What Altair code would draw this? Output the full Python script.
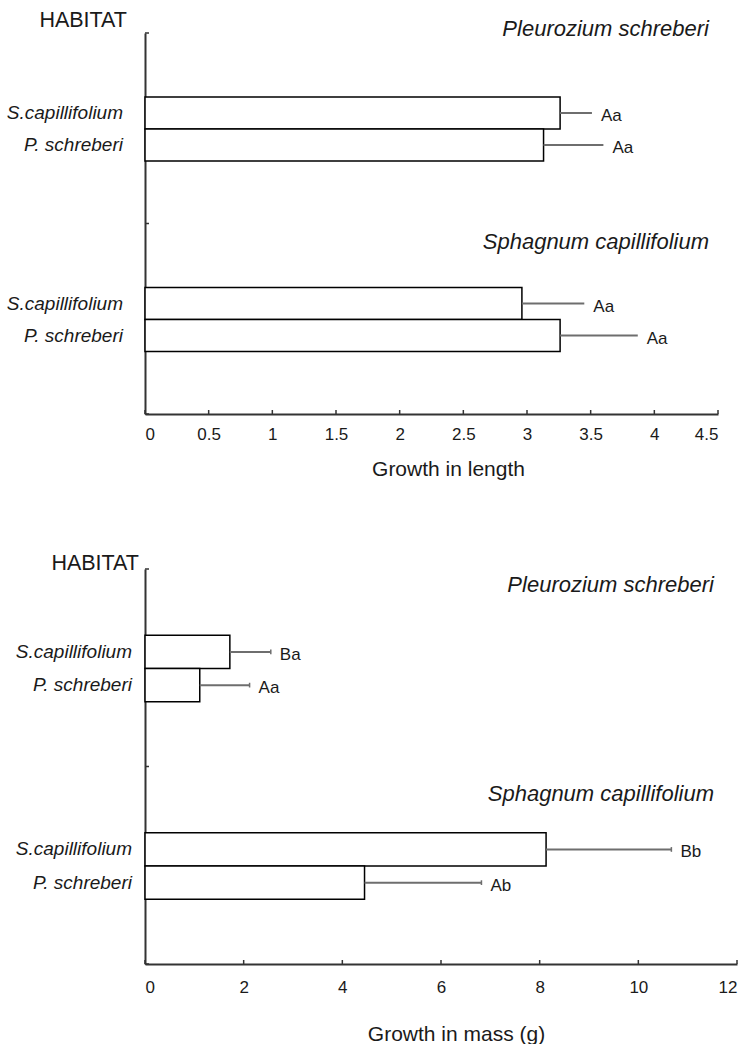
import altair as alt
import pandas as pd

# ---------------- data ----------------
habitats = ["Pleurozium schreberi", "Sphagnum capillifolium"]
species = ["S.capillifolium", "P. schreberi"]

length_mean = [3.26, 3.13, 2.96, 3.26]
length_upper = [3.51, 3.60, 3.45, 3.87]
length_letters = ["Aa", "Aa", "Aa", "Aa"]
length_ticks = [0, 0.5, 1, 1.5, 2, 2.5, 3, 3.5, 4, 4.5]

mass_mean = [1.72, 1.11, 8.13, 4.45]
mass_upper = [2.55, 2.12, 10.67, 6.82]
mass_letters = ["Ba", "Aa", "Bb", "Ab"]
mass_ticks = [0, 2, 4, 6, 8, 10, 12]

group_ticks = [0, 1, 2]

# ---------------- layout constants ----------------
FONT = "Liberation Sans"
TXT = "#1a1a1a"
AXC = "#333333"
BAR_START = 0.336
BAR_H = 0.168


def panel(mean, upper, letters, ticks, xmax, width, height, xtitle,
          label_dx, habitat_xy, title_offsets, title_right, caps, title_x,
          title_y, label_pad):
    rows = []
    for gi, hab in enumerate(habitats):
        for si, sp in enumerate(species):
            k = gi * 2 + si
            y0 = gi + BAR_START + si * BAR_H
            rows.append(dict(habitat=hab, species=sp, mean=mean[k],
                             upper=upper[k], letter=letters[k], start=0.0,
                             y0=y0, y1=y0 + BAR_H, yc=y0 + BAR_H / 2,
                             c0=y0 + BAR_H / 2 - 0.012,
                             c1=y0 + BAR_H / 2 + 0.012))
    df = pd.DataFrame(rows)
    tdf = pd.DataFrame({"habitat": habitats,
                        "ty": [g + o for g, o in zip(range(len(habitats)), title_offsets)]})
    xtick_df = pd.DataFrame({"t": ticks})
    ytick_df = pd.DataFrame({"t": group_ticks})
    hab_df = pd.DataFrame({"label": ["HABITAT"]})

    xscale = alt.Scale(domain=[0, xmax], nice=False, zero=True)
    yscale = alt.Scale(domain=[0, 2], reverse=True, nice=False, zero=False)
    xaxis = alt.Axis(values=ticks, labelExpr="datum.value", title=xtitle,
                     ticks=False, tickSize=0, grid=False, domainColor=AXC,
                     domainWidth=2, labelFont=FONT, labelFontSize=17,
                     labelColor=TXT, labelPadding=label_pad, titleFont=FONT,
                     titleFontSize=21, titleFontWeight="normal",
                     titleColor=TXT, titleX=title_x, titleY=title_y,
                     titleAlign="center", titleBaseline="alphabetic")
    yaxis = alt.Axis(labels=False, ticks=False, tickSize=0, grid=False,
                     title=None, domainColor=AXC, domainWidth=2)

    def X(f):
        return alt.X(f, type="quantitative", scale=xscale, axis=xaxis)

    def Y(f):
        return alt.Y(f, type="quantitative", scale=yscale, axis=yaxis)

    base = alt.Chart(df)
    bars = base.mark_bar(fill="white", stroke="black", strokeWidth=1.5).encode(
        x=X("start"), x2="mean:Q", y=Y("y0"), y2="y1:Q")
    err = base.mark_rule(color="#6e6e6e", strokeWidth=2).encode(
        x=X("mean"), x2="upper:Q", y=Y("yc"))
    layers = [bars, err]
    if caps:
        layers.append(base.mark_rule(color="#6e6e6e", strokeWidth=1.5).encode(
            x=X("upper"), y=Y("c0"), y2="c1:Q"))
    layers.append(base.mark_text(align="left", baseline="middle", dx=9, dy=3,
                                 font=FONT, fontSize=17, color=TXT).encode(
        x=X("upper"), y=Y("yc"), text="letter:N"))
    layers.append(base.mark_text(align="right", baseline="middle",
                                 font=FONT, fontSize=19, fontStyle="italic",
                                 color=TXT).encode(
        x=alt.value(-label_dx), y=Y("yc"), text="species:N"))
    layers.append(alt.Chart(tdf).mark_text(align="right", baseline="middle",
                                           font=FONT, fontSize=22,
                                           fontStyle="italic", color=TXT).encode(
        x=alt.value(title_right), y=Y("ty"), text="habitat:N"))
    layers.append(alt.Chart(hab_df).mark_text(align="right",
                                              baseline="alphabetic",
                                              font=FONT, fontSize=21.5,
                                              color=TXT).encode(
        x=alt.value(habitat_xy[0]), y=alt.value(habitat_xy[1]),
        text="label:N"))
    layers.append(alt.Chart(xtick_df).mark_rule(color=AXC, strokeWidth=1.5).encode(
        x=X("t"), y=alt.value(height), y2=alt.value(height - 4)))
    layers.append(alt.Chart(ytick_df).mark_rule(color=AXC, strokeWidth=1.5).encode(
        y=Y("t"), x=alt.value(0), x2=alt.value(4)))

    return alt.layer(*layers).properties(width=width, height=height)


top = panel(length_mean, length_upper, length_letters, length_ticks, 4.5,
            573, 381, "Growth in length", 22, (-18, -6), [-0.02, 0.095],
            564, False, 303, 61, 12)
bottom = panel(mass_mean, mass_upper, mass_letters, mass_ticks, 12,
               592, 395, "Growth in mass (g)", 13, (-6, 1), [0.08, 0.137],
               569, True, 311, 76, 15)

chart = alt.vconcat(top, bottom, spacing=74).properties(
    padding={"left": 6, "top": 10, "right": 5, "bottom": 5},
    background="white",
).configure_view(stroke=None)

chart.save("out.html", embed_options={"renderer": "svg", "actions": False})
